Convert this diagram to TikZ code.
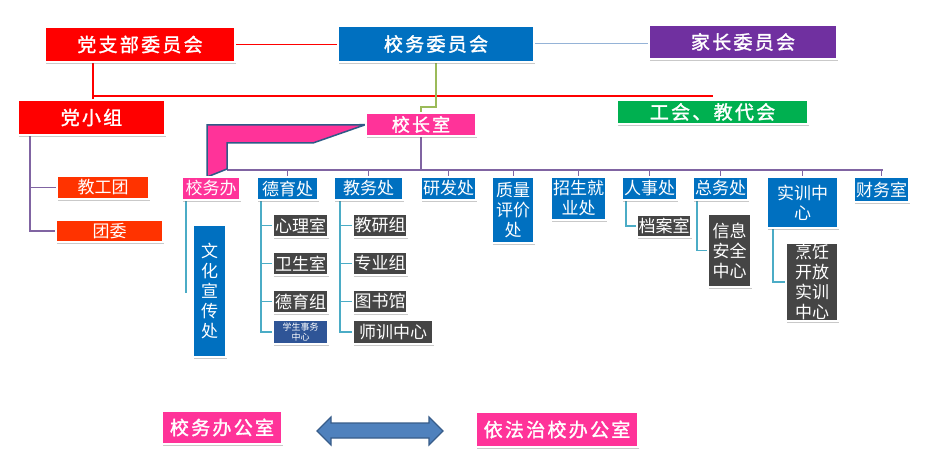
\documentclass[tikz,border=0pt]{standalone}
\usepackage{fontspec}
\newfontfamily\cjk[AutoFakeBold=1.5]{Noto Sans CJK SC}
\newfontfamily\cjkwide[AutoFakeBold=1.5,LetterSpace=12]{Noto Sans CJK SC}
\usetikzlibrary{shadows,backgrounds}
\definecolor{cred}{HTML}{FF0000}
\definecolor{cblue}{HTML}{0070C0}
\definecolor{cpurple}{HTML}{7030A0}
\definecolor{cgreen}{HTML}{00B050}
\definecolor{cpink}{HTML}{FF3399}
\definecolor{corange}{HTML}{FF3300}
\definecolor{cgray}{HTML}{454545}
\definecolor{cdblue}{HTML}{2F5597}
\definecolor{cteal}{HTML}{4BACC6}
\definecolor{cpl}{HTML}{8064A2}
\definecolor{cgl}{HTML}{9BBB59}
\definecolor{cbg}{HTML}{95B3D7}
\definecolor{ccall}{HTML}{2E5A87}
\definecolor{carrow}{HTML}{4F81BD}
\definecolor{carrowd}{HTML}{385D8A}
\tikzset{
  box/.style={draw=white, line width=1.2pt, text=white, inner sep=0pt, outer sep=0pt, align=center,
    drop shadow={shadow xshift=1.2pt, shadow yshift=-1.6pt, fill=black!60, opacity=0.35},
    font=\cjk\fontsize{17}{20}\selectfont},
  big/.style={font=\cjkwide\bfseries\fontsize{19}{22}\selectfont},
  mid/.style={font=\cjkwide\bfseries\fontsize{18}{21}\selectfont},
  small/.style={font=\cjk\fontsize{9}{9.5}\selectfont},
  redline/.style={draw=cred, line width=1.6pt},
  tealline/.style={draw=cteal, line width=1.6pt},
  purpline/.style={draw=cpl, line width=1.6pt},
  greenline/.style={draw=cgl, line width=1.6pt},
  grayline/.style={draw=cbg, line width=1pt},
}
\newcommand\mybox[8][]{\node[box,#1,fill=#7,minimum width={(#5-#3)*1pt},minimum height={(#6-#4)*1pt},anchor=north west] (#2) at (#3,#4) {#8};}
\begin{document}
\begin{tikzpicture}[x=1pt,y=-1pt]
\useasboundingbox (0,0) rectangle (926,468);
% top
\mybox[big]{dzb}{45}{27}{235}{62}{cred}{党支部委员会}
\mybox[big]{xwwyh}{338}{26}{534}{62}{cblue}{校务委员会}
\mybox[big]{jzwyh}{649}{25}{837}{59}{cpurple}{家长委员会}
\mybox[big]{dxz}{18}{100}{165}{135}{cred}{党小组}
\mybox[big]{gh}{617}{100}{808}{124}{cgreen}{工会、教代会}
\mybox[mid]{xzs}{366}{113}{476}{136}{cpink}{校长室}
% second row
\mybox{jgt}{57}{176}{149}{199}{corange}{教工团}
\mybox{tw}{56}{220}{163}{242}{corange}{团委}
\mybox{xwb}{182}{177}{240}{200}{cpink}{校务办}
\mybox{whxc}{193}{225}{226}{357}{cblue}{文\\化\\宣\\传\\处}
\mybox{dyc}{257}{177}{318}{200}{cblue}{德育处}
\mybox{xls}{273}{214}{328}{237}{cgray}{心理室}
\mybox{wss}{273}{252}{328}{275}{cgray}{卫生室}
\mybox{dyz}{273}{290}{328}{313}{cgray}{德育组}
\mybox[small]{xssw}{273}{320}{328}{344}{cdblue}{学生事务\\中心}
\mybox{jwc}{334}{177}{403}{200}{cblue}{教务处}
\mybox{jyz}{353}{214}{407}{237}{cgray}{教研组}
\mybox{zyz}{353}{252}{407}{275}{cgray}{专业组}
\mybox{tsg}{353}{290}{407}{313}{cgray}{图书馆}
\mybox{sxzx}{353}{320}{433}{344}{cgray}{师训中心}
\mybox{yfc}{421}{177}{476}{200}{cblue}{研发处}
\mybox{zlpj}{492}{177}{534}{243}{cblue}{质量\\评价\\处}
\mybox{zsjy}{551}{177}{606}{220}{cblue}{招生就\\业处}
\mybox{rsc}{622}{177}{677}{200}{cblue}{人事处}
\mybox{das}{637}{215}{691}{237}{cgray}{档案室}
\mybox{zwc}{693}{177}{748}{200}{cblue}{总务处}
\mybox{xxaq}{708}{214}{751}{287}{cgray}{信息\\安全\\中心}
\mybox{sxzx2}{767}{177}{838}{228}{cblue}{实训中\\心}
\mybox{prkf}{786}{243}{838}{321}{cgray}{烹饪\\开放\\实训\\中心}
\mybox{cws}{854}{177}{909}{202}{cblue}{财务室}
% bottom
\mybox[big]{xwbgs}{162}{411}{282}{444}{cpink}{校务办公室}
\mybox[big]{yfzx}{476}{412}{638}{447}{cpink}{依法治校办公室}
\begin{scope}[on background layer]
\fill[white] (0,0) rectangle (926,468);
\draw[redline] (dzb.east) -- (dzb.east -| xwwyh.west);
\draw[grayline] (xwwyh.east) -- (xwwyh.east -| jzwyh.west);
\draw[redline] (dzb.south west) ++(48,0) coordinate (ra) -- (ra |- dxz.north);
\coordinate (redend) at (713,96);
\draw[redline] (ra |- redend) -- (redend);
\draw[greenline] (xwwyh.south) -- ++(0,45) -| (xzs.north);
\coordinate (busL) at (227,170);
\coordinate (busR) at (883,170);
\draw[purpline] (xzs.south) -- (xzs.south |- busL);
\draw[purpline] (busL) -- (busR);
\foreach \n in {dyc,jwc,yfc,zlpj,zsjy,rsc,zwc,sxzx2,cws}
  \draw[purpline,line width=1pt] (\n.north) -- (\n.north |- busL);
\draw[purpline] (dxz.south west) ++(12,0) coordinate (pa) -- (pa |- tw.west) -- (tw.west);
\draw[purpline] (pa |- jgt.west) -- (jgt.west);
\draw[tealline] (xwb.south west) ++(4,0) coordinate (ta) -- ++(0,93) coordinate (tae);
\draw[tealline] (dyc.south west) ++(4,0) coordinate (tb) -- (tb |- xssw.west) -- (xssw.west);
\foreach \n in {xls,wss,dyz} \draw[tealline] (tb |- \n.west) -- (\n.west);
\draw[tealline] (jwc.south west) ++(6,0) coordinate (tc) -- (tc |- sxzx.west) -- (sxzx.west);
\foreach \n in {jyz,zyz,tsg} \draw[tealline] (tc |- \n.west) -- (\n.west);
\draw[tealline] (rsc.south west) ++(4,0) coordinate (td) -- (td |- das.west) -- (das.west);
\draw[tealline] (zwc.south west) ++(4,0) coordinate (te) -- (te |- xxaq.west) -- (xxaq.west);
\draw[tealline] (sxzx2.south west) ++(6,0) coordinate (tf) -- (tf |- prkf.west) -- (prkf.west);
\draw[fill=cpink, draw=ccall, line width=1.5pt, line join=miter]
  (207,177) -- (207,125) -- (353,125) -- (xzs.west) -- (313,143) -- (227,143) -- (227,169) -- cycle;
\end{scope}
\draw[fill=carrow, draw=carrowd, line width=1.2pt]
  (317,431) -- (331,417) -- (331,423) -- (429,423) -- (429,417) -- (443,431) -- (429,445)
  -- (429,438) -- (331,438) -- (331,445) -- cycle;
\end{tikzpicture}
\end{document}
